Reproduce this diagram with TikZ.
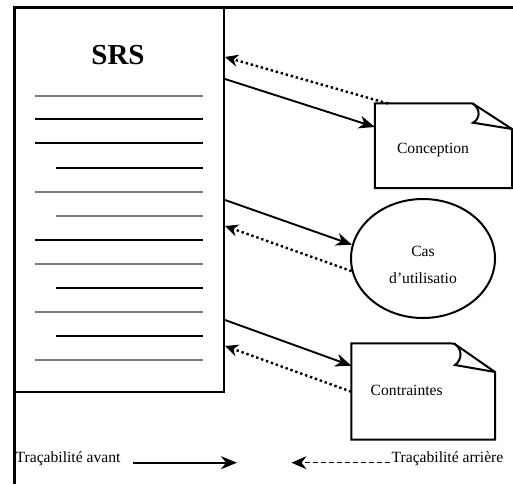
\documentclass[tikz,border=0pt]{standalone}
\usepackage{fontspec}
\setmainfont{Liberation Serif}
\newfontfamily\tnr{Liberation Serif}
\usetikzlibrary{arrows.meta,shapes.geometric}
\begin{document}
\begin{tikzpicture}[x=1pt,y=-1pt,
  font=\tnr\fontsize{15.6}{18}\selectfont,
  frame/.style={line width=3pt},
  doc/.style={line width=2pt},
  txtline/.style={line width=2.2pt},
  fwd/.style={line width=1.9pt,-{Stealth[length=16pt,width=13pt,inset=5pt]}},
  bwd/.style={line width=2.4pt,dash pattern=on 2.4pt off 2.8pt,-{Stealth[length=13pt,width=12pt,inset=4pt]}},
  legdash/.style={line width=1.4pt,dash pattern=on 5pt off 3pt,-{Stealth[length=15pt,width=13pt,inset=5pt]}},
  lbl/.style={inner sep=0pt}
]
\useasboundingbox (0,0) rectangle (513,484);
% outer frame
\coordinate (ftl) at (14,8);
\coordinate (ftr) at (513,8);
\coordinate (fbl) at (14,484);
\draw[frame] (ftr) -- (ftl) -- (fbl);
% SRS document
\node[draw,doc,rectangle,minimum width=210pt,minimum height=384pt,inner sep=0pt] (srs) at (119,200) {};
\node[lbl,font=\tnr\fontsize{29}{32}\selectfont\bfseries] (srst) at (118,55) {SRS};
\foreach \y/\xl/\c in {96/35/gray,119/35/black,143/35/black,168/56/black,192/35/gray,216/56/gray,240/35/black,264/35/gray,288/56/black,312/35/gray,336/56/black,360/35/gray}{
  \draw[txtline,\c!95!black] (\xl,\y) -- (203,\y);
}
% Conception note
\node[minimum width=137pt,minimum height=84.5pt,inner sep=0pt] (conc) at (443.5,145.75) {};
\draw[doc,line join=miter] (conc.south west) -- (conc.north west) -- (472.7,103.5) -- (512,129) -- (conc.south east) -- cycle;
\draw[doc] (472.7,103.5) .. controls (481,109) and (480,119) .. (473,122.7) -- (512,129);
\node[lbl] (conct) at (433,150) {Conception};
% Use case ellipse
\node[draw,doc,ellipse,minimum width=144pt,minimum height=119pt,inner sep=0pt] (cas) at (423,258.5) {};
\node[lbl,align=center,font=\tnr\fontsize{15.6}{27}\selectfont] (cast) at (423,265) {Cas\\d’utilisatio};
% Contraintes note
\node[minimum width=143.5pt,minimum height=96pt,inner sep=0pt] (cont) at (423.25,391.5) {};
\draw[doc,line join=miter] (cont.south west) -- (cont.north west) -- (454,343.5) -- (495,372) -- (cont.south east) -- cycle;
\draw[doc] (454,343.5) .. controls (463,349) and (462,360) .. (455,365) -- (495,372);
\node[lbl] (contt) at (406.7,390) {Contraintes};
% connectors
\draw[fwd] (srs.east |- 0,79) -- (conc.west |- 0,127);
\draw[bwd] (388,103.5) -- (srs.east |- 0,57);
\draw[fwd] (srs.east |- 0,200) -- (cas.169);
\draw[bwd] (cas.190) -- (srs.east |- 0,226);
\draw[fwd] (srs.east |- 0,320) -- (cont.west |- 0,365.7);
\draw[bwd] (cont.west |- 0,391.7) -- (srs.east |- 0,346);
% legend
\node[lbl,anchor=west] (lav) at (15.5,459) {Traçabilité avant};
\node[lbl,anchor=west] (lar) at (391.5,459) {Traçabilité arrière};
\coordinate (la1) at (133,462.7);
\coordinate (la2) at (237,462.7);
\coordinate (lb1) at (390,462.7);
\coordinate (lb2) at (291.5,462.7);
\draw[fwd] (la1) -- (la2);
\draw[legdash] (lb1) -- (lb2);
\end{tikzpicture}
\end{document}
